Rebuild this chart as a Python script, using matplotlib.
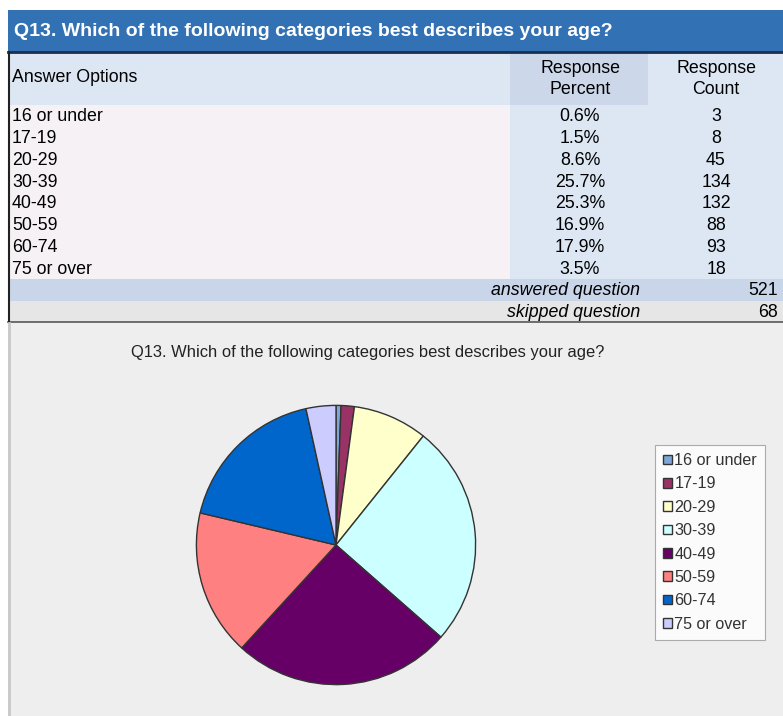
import matplotlib
matplotlib.use("Agg")
import matplotlib.pyplot as plt
from matplotlib.patches import Rectangle

# survey data
question = "Q13. Which of the following categories best describes your age?"
age_groups = ["16 or under", "17-19", "20-29", "30-39", "40-49", "50-59", "60-74", "75 or over"]
percents = ["0.6%", "1.5%", "8.6%", "25.7%", "25.3%", "16.9%", "17.9%", "3.5%"]
counts = [3, 8, 45, 134, 132, 88, 93, 18]
answered = 521
skipped = 68

slice_colors = ["#7ea6d8", "#993366", "#ffffcc", "#ccffff", "#660066", "#ff8080", "#0066cc", "#ccccff"]

plt.rcParams["font.family"] = ["Liberation Sans", "DejaVu Sans"]

W, H = 783, 716
fig = plt.figure(figsize=(W / 100, H / 100), dpi=100)
fig.patch.set_facecolor("white")

# full-figure axes in pixel units for the table
bg = fig.add_axes([0, 0, 1, 1])
bg.set_xlim(0, W)
bg.set_ylim(H, 0)
bg.axis("off")


def box(x0, y0, x1, y1, color, **kw):
    bg.add_patch(Rectangle((x0, y0), x1 - x0, y1 - y0, facecolor=color, edgecolor="none", **kw))


fs = 12.8

# title bar
box(8, 10, W, 52, "#3271b3")
bg.plot([8, W], [52, 52], color="#1a2f4f", lw=2)
bg.text(14, 31.5, question, color="white", fontsize=14.0, fontweight="bold",
        va="center", ha="left")

# header row
box(8, 53, W, 105, "#dde7f3")
box(510, 53, 648, 105, "#ccd7e9")
bg.text(12, 78, "Answer Options", fontsize=fs, va="center")
bg.text(580, 79, "Response\nPercent", fontsize=fs, va="center", ha="center", linespacing=1.3)
bg.text(716, 79, "Response\nCount", fontsize=fs, va="center", ha="center", linespacing=1.3)

# data rows
row_h = 21.8
top = 105
box(8, top, 510, top + row_h * len(age_groups), "#f5f1f4")
box(510, top, W, top + row_h * len(age_groups), "#dde7f3")
for i, (lab, pct, cnt) in enumerate(zip(age_groups, percents, counts)):
    y = top + 0.8 + row_h * (i + 0.5)
    bg.text(12, y, lab, fontsize=fs, va="center")
    bg.text(580, y, pct, fontsize=fs, va="center", ha="center")
    bg.text(716, y, str(cnt), fontsize=fs, va="center", ha="center")

y_ans = top + row_h * len(age_groups)
box(8, y_ans, W, y_ans + 22, "#c9d6ea")
bg.text(640, y_ans + 11.5, "answered question", fontsize=fs, style="italic", va="center", ha="right")
bg.text(778, y_ans + 11.5, str(answered), fontsize=fs, va="center", ha="right")
box(8, y_ans + 22, W, y_ans + 43, "#e6e6e6")
bg.text(640, y_ans + 33, "skipped question", fontsize=fs, style="italic", va="center", ha="right")
bg.text(778, y_ans + 33, str(skipped), fontsize=fs, va="center", ha="right")
bg.plot([8, W], [y_ans + 43, y_ans + 43], color="#555555", lw=1.2)
bg.plot([9, 9], [52, y_ans + 43], color="#222222", lw=1.5)

# chart area
chart_top = y_ans + 44
box(8, chart_top, W, H, "#eeeeee")
bg.plot([9, 9], [chart_top, H], color="#c8c8c8", lw=2)
bg.text(368, 353, question, fontsize=11.9, va="center", ha="center", color="#222222")

# pie
cx, cy, r = 336, 545, 141
pie_ax = fig.add_axes([(cx - r) / W, (H - cy - r) / H, 2 * r / W, 2 * r / H])
wedges, _ = pie_ax.pie(counts, colors=slice_colors, startangle=90, counterclock=False,
                       wedgeprops=dict(edgecolor="#333333", linewidth=1))
pie_ax.set_xlim(-1.01, 1.01)
pie_ax.set_ylim(-1.01, 1.01)
pie_ax.set_aspect("equal")

leg = fig.legend(wedges, age_groups, loc="upper left",
                 bbox_to_anchor=(655 / W, 1 - 445 / H), frameon=True, fancybox=False,
                 fontsize=11.6, handlelength=0.55, handleheight=0.55, handletextpad=0.15,
                 labelspacing=0.52, borderpad=0.5, borderaxespad=0, labelcolor="#333333")
leg.get_frame().set_edgecolor("#999999")
leg.get_frame().set_linewidth(0.8)

fig.savefig("out.png", dpi=100)
